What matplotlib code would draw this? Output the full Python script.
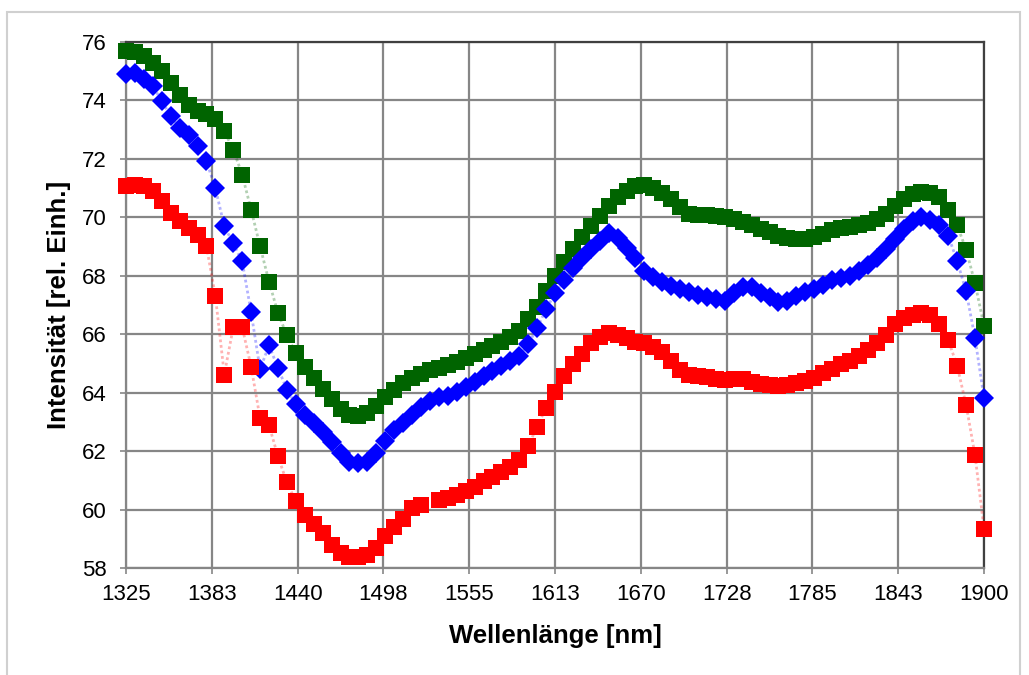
import numpy as np
import matplotlib
matplotlib.use("Agg")
import matplotlib.pyplot as plt
from matplotlib.patches import Rectangle

plt.rcParams['font.family'] = ['Liberation Sans', 'DejaVu Sans']

# wavelength axis: 97 evenly spaced samples between 1325 and 1900 nm
wavelength = np.linspace(1325, 1900, 97)

green = [75.69, 75.67, 75.52, 75.29, 75.00, 74.60, 74.20, 73.86, 73.63, 73.55,
         73.35, 72.95, 72.32, 71.46, 70.26, 69.01, 67.80, 66.73, 65.96, 65.36,
         64.89, 64.50, 64.14, 63.79, 63.43, 63.25, 63.19, 63.31, 63.55, 63.84,
         64.08, 64.32, 64.50, 64.65, 64.76, 64.85, 64.95, 65.06, 65.17, 65.32,
         65.45, 65.59, 65.72, 65.89, 66.10, 66.52, 66.93, 67.47, 68.00, 68.48,
         68.93, 69.33, 69.69, 70.05, 70.38, 70.68, 70.91, 71.07, 71.12, 71.01,
         70.83, 70.62, 70.34, 70.12, 70.08, 70.07, 70.05, 70.00, 69.93, 69.84,
         69.73, 69.61, 69.49, 69.37, 69.29, 69.25, 69.25, 69.31, 69.43, 69.55,
         69.65, 69.67, 69.73, 69.81, 69.93, 70.12, 70.38, 70.64, 70.80, 70.85,
         70.83, 70.68, 70.26, 69.73, 68.89, 67.74, 66.28]

blue = [74.89, 74.95, 74.72, 74.49, 73.98, 73.46, 73.06, 72.83, 72.43, 71.92,
        71.00, 69.69, 69.11, 68.49, 66.75, 64.80, 65.62, 64.85, 64.10, 63.60,
        63.25, 62.95, 62.65, 62.30, 61.94, 61.64, 61.58, 61.64, 61.94, 62.36,
        62.71, 62.97, 63.25, 63.51, 63.72, 63.84, 63.90, 64.02, 64.20, 64.38,
        64.56, 64.73, 64.91, 65.09, 65.25, 65.65, 66.22, 66.85, 67.40, 67.85,
        68.25, 68.60, 68.90, 69.20, 69.45, 69.30, 68.95, 68.60, 68.15, 67.95,
        67.80, 67.65, 67.55, 67.45, 67.35, 67.28, 67.22, 67.15, 67.40, 67.62,
        67.60, 67.42, 67.27, 67.10, 67.15, 67.30, 67.45, 67.55, 67.70, 67.85,
        67.92, 68.00, 68.18, 68.36, 68.60, 68.90, 69.25, 69.60, 69.88, 70.00,
        69.90, 69.73, 69.37, 68.50, 67.47, 65.86, 63.82]

red = [71.06, 71.12, 71.06, 70.89, 70.55, 70.15, 69.89, 69.63, 69.41, 69.01,
       67.31, 64.62, 66.24, 66.24, 64.89, 63.13, 62.89, 61.82, 60.93, 60.28,
       59.83, 59.51, 59.19, 58.79, 58.50, 58.38, 58.38, 58.44, 58.67, 59.09,
       59.39, 59.68, 60.04, 60.16, np.nan, 60.34, 60.40, 60.50, 60.63, 60.78,
       60.99, 61.13, 61.29, 61.47, 61.70, 62.18, 62.83, 63.49, 64.02, 64.56,
       64.97, 65.33, 65.69, 65.92, 66.04, 65.98, 65.86, 65.74, 65.69, 65.57,
       65.39, 65.09, 64.79, 64.62, 64.56, 64.52, 64.46, 64.44, 64.46, 64.46,
       64.38, 64.30, 64.26, 64.22, 64.26, 64.34, 64.40, 64.50, 64.67, 64.82,
       64.97, 65.09, 65.25, 65.45, 65.69, 65.98, 66.34, 66.55, 66.67, 66.72,
       66.67, 66.36, 65.80, 64.91, 63.58, 61.85, 59.35]

xtick_labels = ["1325", "1383", "1440", "1498", "1555", "1613",
                "1670", "1728", "1785", "1843", "1900"]
yticks = [58, 60, 62, 64, 66, 68, 70, 72, 74, 76]

fig = plt.figure(figsize=(10.29, 6.75), dpi=100)
ax = fig.add_axes([126/1029, 1 - 568/675, 858/1029, 526/675])

series = [(green, "#006400", "s", 11.2),
          (blue, "#0000ff", "D", 10.3),
          (red, "#ff0000", "s", 11.2)]

for vals, col, mk, ms in series:
    ax.plot(wavelength, vals, color=col, ls=(0, (1, 1)), lw=2, alpha=0.3,
            clip_on=False, zorder=3)
for vals, col, mk, ms in series:
    ax.plot(wavelength, vals, ls="none", marker=mk, ms=ms, mfc=col, mec=col,
            mew=0, clip_on=False, zorder=4)

ax.set_xlim(1325, 1900)
ax.set_ylim(58, 76)
ax.set_xticks(np.linspace(1325, 1900, 11))
ax.set_xticklabels(xtick_labels)
ax.set_yticks(yticks)

ax.grid(True, color="#868686", lw=1.6)
ax.set_axisbelow(True)
for s in ["left", "bottom"]:
    ax.spines[s].set_color("#868686")
    ax.spines[s].set_linewidth(1.6)
for s in ["top", "right"]:
    ax.spines[s].set_color("#404040")
    ax.spines[s].set_linewidth(1.6)

ax.tick_params(axis="both", labelsize=16, color="#868686", length=4, width=1.2)
ax.tick_params(axis="x", pad=7.5)
ax.tick_params(axis="y", pad=10)

fig.text(555/1029, 1 - 643/675, "Wellenlänge [nm]", fontsize=18.5, fontweight="bold",
         ha="center", va="baseline")
fig.text(66/1029, 1 - 305/675, "Intensität [rel. Einh.]", fontsize=18.5, fontweight="bold",
         rotation=90, rotation_mode="anchor", ha="center", va="baseline")

# light frame around the chart
fig.add_artist(Rectangle((7/1029, -0.05), 1013/1029, 1.05 - 12/675,
                         transform=fig.transFigure, fill=False,
                         edgecolor="#d0d0d0", lw=1.5))

fig.savefig("out.png", dpi=100, facecolor="white")
